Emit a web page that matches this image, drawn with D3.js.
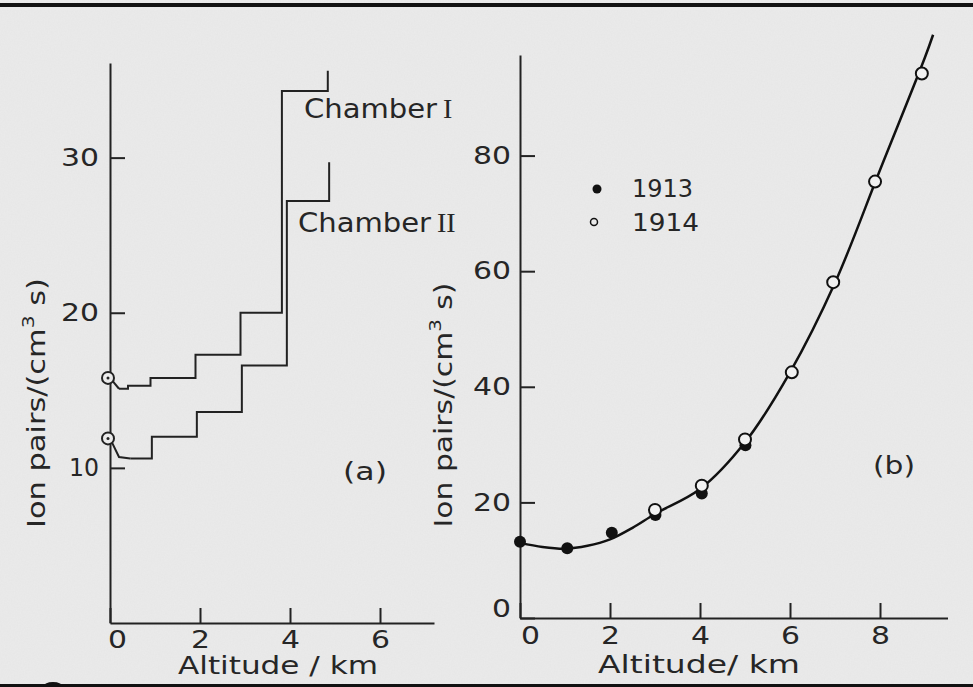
<!DOCTYPE html>
<html>
<head>
<meta charset="utf-8">
<script src="https://cdn.jsdelivr.net/npm/d3@7"></script>
<style>
  body { margin: 0; background: #e9e9e9; }
  svg text { font-family: 'DejaVu Sans', sans-serif; fill: #262626; }
</style>
</head>
<body>
<div id="chart"></div>
<script>
// panel (a): ionisation chambers, altitude (km) vs ion pairs/(cm3 s)
let chamberIStartAlt = [0, 0.2]
let chamberIStartVal = [15.8, 15.1]
let chamberIAlt = [0.2, 0.4, 0.9, 1.9, 2.9, 3.82, 4.84]
let chamberIVal = [15.1, 15.3, 15.8, 17.3, 20.0, 34.3, 35.6]

let chamberIIStartAlt = [0, 0.2, 0.45]
let chamberIIStartVal = [11.9, 10.7, 10.6]
let chamberIIAlt = [0.45, 0.93, 1.93, 2.93, 3.93, 4.87]
let chamberIIVal = [10.6, 12.0, 13.6, 16.6, 27.2, 29.7]

let xTicksA = [0, 2, 4, 6]
let yTicksA = [10, 20, 30]

// panel (b): balloon flights
let alt1913 = [0, 1.05, 2.04, 3.01, 4.04, 5.01]
let val1913 = [13.2, 12.05, 14.75, 17.8, 21.55, 29.9]
let alt1914 = [3.0, 4.04, 5.0, 6.04, 6.96, 7.89, 8.93]
let val1914 = [18.7, 22.9, 30.9, 42.5, 58.1, 75.5, 94.2]

let fitAlt = [0, 0.5, 1, 1.5, 2, 2.5, 3, 4, 5, 6, 7, 8, 9, 9.18]
let fitVal = [13.0, 12.3, 12.0, 12.5, 13.6, 15.6, 18.0, 22.3, 30.4, 42.5, 58.0, 77.5, 97.0, 100.9]

let xTicksB = [0, 2, 4, 6, 8]
let yTicksB = [0, 20, 40, 60, 80]

let width = 973
let height = 687
let ink = '#222'

let svg = d3
  .select('#chart')
  .append('svg')
  .attr('width', width)
  .attr('height', height)

let defs = svg.append('defs')
let paper = defs.append('filter').attr('id', 'paper')
paper
  .append('feTurbulence')
  .attr('type', 'fractalNoise')
  .attr('baseFrequency', 0.7)
  .attr('numOctaves', 2)
  .attr('seed', 4)
paper
  .append('feColorMatrix')
  .attr('type', 'matrix')
  .attr('values', '0 0 0 0 0.45  0 0 0 0 0.45  0 0 0 0 0.45  0 0 0 0.09 0')

svg.append('rect').attr('width', width).attr('height', height).attr('fill', '#ebebeb')
svg.append('rect').attr('width', width).attr('height', height).attr('filter', 'url(#paper)')

// frame bars of the scan
svg.append('rect').attr('x', 0).attr('y', 3).attr('width', width).attr('height', 4).attr('fill', '#111')
svg.append('rect').attr('x', 0).attr('y', 684).attr('width', width).attr('height', 3).attr('fill', '#111')
svg.append('ellipse').attr('cx', 53).attr('cy', 687).attr('rx', 10).attr('ry', 5).attr('fill', '#111')

// char widths to mimic the wide lettering of the original
function tw(s) {
  return s.split('').reduce((a, c) => a + (c === '1' ? 11 : 19), 0)
}

function styleAxis(g) {
  g.select('.domain').attr('stroke', ink).attr('stroke-width', 2)
  g.selectAll('.tick line').attr('stroke', ink).attr('stroke-width', 2)
  g.selectAll('.tick text')
    .attr('font-size', 24)
    .attr('fill', '#262626')
    .attr('textLength', d => tw(String(d)))
    .attr('lengthAdjust', 'spacingAndGlyphs')
}

function label(x, y, txt, len, opts) {
  opts = opts || {}
  let t = svg
    .append('text')
    .attr('x', x)
    .attr('y', y)
    .attr('text-anchor', opts.anchor || 'middle')
    .attr('font-size', opts.size || 24)
    .attr('textLength', len)
    .attr('lengthAdjust', 'spacingAndGlyphs')
    .text(txt)
  if (opts.rotate) t.attr('transform', 'rotate(-90,' + x + ',' + y + ')')
  return t
}

function unitLabel(x, y, len) {
  let t = svg
    .append('text')
    .attr('x', x)
    .attr('y', y)
    .attr('text-anchor', 'middle')
    .attr('font-size', 24)
    .attr('textLength', len)
    .attr('lengthAdjust', 'spacingAndGlyphs')
    .attr('transform', 'rotate(-90,' + x + ',' + y + ')')
  t.append('tspan').text('Ion pairs/(cm')
  t.append('tspan').attr('font-size', 16).attr('dy', -11).text('3')
  t.append('tspan').attr('dy', 11).text(' s)')
}

// roman numerals are set in a serif face, as in the original
function chamber(x, y, num, len) {
  label(x, y, 'Chamber', len, { anchor: 'start', size: 26 })
  svg
    .append('text')
    .attr('x', x + len + 6)
    .attr('y', y)
    .attr('font-size', 28)
    .style('font-family', "'Liberation Serif', serif")
    .attr('fill', '#262626')
    .text(num)
}

// ---------- panel (a)
let xa = d3.scaleLinear().domain([0, 7.2]).range([110, 434])
let ya = d3.scaleLinear().domain([0, 36.1]).range([623, 63])

svg
  .append('g')
  .attr('transform', 'translate(0,' + ya(0) + ')')
  .call(d3.axisBottom(xa).tickValues(xTicksA).tickSizeInner(-15).tickSizeOuter(0).tickPadding(8))
  .call(styleAxis)
  .selectAll('.tick text')
  .attr('dx', d => (d === 0 ? 7 : 0))

svg
  .append('g')
  .attr('transform', 'translate(' + xa(0) + ',0)')
  .call(d3.axisLeft(ya).tickValues(yTicksA).tickSizeInner(-15).tickSizeOuter(0).tickPadding(11))
  .call(styleAxis)

let lineA = d3.line().x(d => xa(d[0])).y(d => ya(d[1]))
let stepA = d3.line().x(d => xa(d[0])).y(d => ya(d[1])).curve(d3.curveStepAfter)

let traces = [
  [chamberIStartAlt, chamberIStartVal, chamberIAlt, chamberIVal],
  [chamberIIStartAlt, chamberIIStartVal, chamberIIAlt, chamberIIVal]
]

traces.forEach(tr => {
  let start = d3.zip(tr[0], tr[1])
  let steps = d3.zip(tr[2], tr[3])
  svg.append('path').attr('d', lineA(start)).attr('fill', 'none').attr('stroke', ink).attr('stroke-width', 2)
  svg.append('path').attr('d', stepA(steps)).attr('fill', 'none').attr('stroke', ink).attr('stroke-width', 2)
  svg
    .append('circle')
    .attr('cx', xa(tr[0][0]) - 2)
    .attr('cy', ya(tr[1][0]))
    .attr('r', 6)
    .attr('fill', '#ebebeb')
    .attr('stroke', ink)
    .attr('stroke-width', 2)
  svg
    .append('circle')
    .attr('cx', xa(tr[0][0]) - 2)
    .attr('cy', ya(tr[1][0]))
    .attr('r', 1.5)
    .attr('fill', ink)
})

chamber(304, 118, 'I', 133)
chamber(298, 232, 'II', 133)

label(365, 480, '(a)', 44)
label(278, 674, 'Altitude / km', 200)
unitLabel(45, 403, 250)

// ---------- panel (b)
let xb = d3.scaleLinear().domain([0, 9.5]).range([520, 947.5])
let yb = d3.scaleLinear().domain([0, 97.4]).range([618, 55])

svg
  .append('g')
  .attr('transform', 'translate(0,' + yb(0) + ')')
  .call(d3.axisBottom(xb).tickValues(xTicksB).tickSizeInner(-15).tickSizeOuter(0).tickPadding(9))
  .call(styleAxis)
  .selectAll('.tick text')
  .attr('dx', d => (d === 0 ? 10 : 0))

svg
  .append('g')
  .attr('transform', 'translate(' + xb(0) + ',0)')
  .call(d3.axisLeft(yb).tickValues(yTicksB).tickSizeInner(-15).tickSizeOuter(0).tickPadding(9))
  .call(styleAxis)
  .selectAll('.tick text')
  .attr('dy', d => (d === 0 ? '-0.05em' : '0.32em'))

let fitLine = d3
  .line()
  .x(d => xb(d[0]))
  .y(d => yb(d[1]))
  .curve(d3.curveCatmullRom)

svg
  .append('path')
  .attr('d', fitLine(d3.zip(fitAlt, fitVal)))
  .attr('fill', 'none')
  .attr('stroke', '#111')
  .attr('stroke-width', 2.5)

svg
  .append('g')
  .selectAll('circle')
  .data(d3.zip(alt1913, val1913))
  .enter()
  .append('circle')
  .attr('cx', d => xb(d[0]))
  .attr('cy', d => yb(d[1]))
  .attr('r', 6)
  .attr('fill', '#111')

svg
  .append('g')
  .selectAll('circle')
  .data(d3.zip(alt1914, val1914))
  .enter()
  .append('circle')
  .attr('cx', d => xb(d[0]))
  .attr('cy', d => yb(d[1]))
  .attr('r', 6)
  .attr('fill', '#f2f2f2')
  .attr('stroke', '#111')
  .attr('stroke-width', 2)

// legend
svg.append('circle').attr('cx', 597).attr('cy', 189).attr('r', 4.5).attr('fill', '#111')
svg.append('circle').attr('cx', 594).attr('cy', 222).attr('r', 3.5).attr('fill', 'none').attr('stroke', '#111').attr('stroke-width', 1.5)
label(632, 197, '1913', 61, { anchor: 'start' })
label(632, 231, '1914', 67, { anchor: 'start' })

label(894, 474, '(b)', 42)
label(699, 673, 'Altitude/ km', 202)
unitLabel(452, 405, 245)
</script>
</body>
</html>
